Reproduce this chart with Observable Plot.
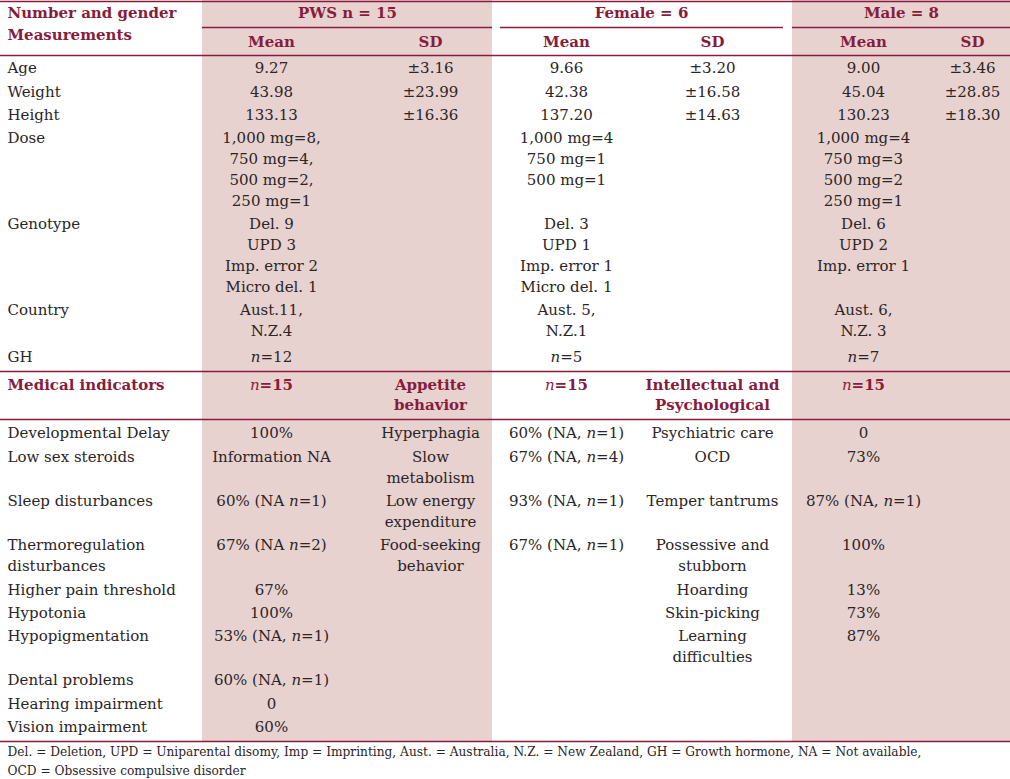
<!DOCTYPE html>
<html><head><meta charset="utf-8">
<script src="https://cdn.jsdelivr.net/npm/d3@7"></script>
<script src="https://cdn.jsdelivr.net/npm/@observablehq/plot@0.6"></script>
<style>body{margin:0;background:#fff}</style>
</head><body><div id="chart"></div>
<script>
// ---------- DATA ----------
const cornerHead = ["Number and gender", "Measurements"];
const groupHeads = ["PWS n = 15", "Female = 6", "Male = 8"];
const statHeads = ["Mean", "SD"];

const measureLabels = ["Age", "Weight", "Height"];
const pwsMean = [9.27, 43.98, 133.13];
const pwsSD = [3.16, 23.99, 16.36];
const femaleMean = [9.66, 42.38, 137.20];
const femaleSD = [3.20, 16.58, 14.63];
const maleMean = [9.00, 45.04, 130.23];
const maleSD = [3.46, 28.85, 18.30];

const descLabels = ["Dose", "Genotype", "Country", "GH"];
const pwsDesc = [["1,000 mg=8,", "750 mg=4,", "500 mg=2,", "250 mg=1"], ["Del. 9", "UPD 3", "Imp. error 2", "Micro del. 1"], ["Aust.11,", "N.Z.4"], ["n=12"]];
const femaleDesc = [["1,000 mg=4", "750 mg=1", "500 mg=1"], ["Del. 3", "UPD 1", "Imp. error 1", "Micro del. 1"], ["Aust. 5,", "N.Z.1"], ["n=5"]];
const maleDesc = [["1,000 mg=4", "750 mg=3", "500 mg=2", "250 mg=1"], ["Del. 6", "UPD 2", "Imp. error 1"], ["Aust. 6,", "N.Z. 3"], ["n=7"]];

const sectionHeads = [["Medical indicators"], ["n=15"], ["Appetite", "behavior"], ["n=15"], ["Intellectual and", "Psychological"], ["n=15"]];

const medicalLabels = [["Developmental Delay"], ["Low sex steroids"], ["Sleep disturbances"], ["Thermoregulation", "disturbances"], ["Higher pain threshold"], ["Hypotonia"], ["Hypopigmentation"], ["Dental problems"], ["Hearing impairment"], ["Vision impairment"]];
const medicalValues = ["100%", "Information NA", "60% (NA n=1)", "67% (NA n=2)", "67%", "100%", "53% (NA, n=1)", "60% (NA, n=1)", "0", "60%"];
const appetiteLabels = [["Hyperphagia"], ["Slow", "metabolism"], ["Low energy", "expenditure"], ["Food-seeking", "behavior"]];
const appetiteValues = ["60% (NA, n=1)", "67% (NA, n=4)", "93% (NA, n=1)", "67% (NA, n=1)"];
const psychLabels = [["Psychiatric care"], ["OCD"], ["Temper tantrums"], ["Possessive and", "stubborn"], ["Hoarding"], ["Skin-picking"], ["Learning", "difficulties"]];
const psychValues = ["0", "73%", "87% (NA, n=1)", "100%", "13%", "73%", "87%"];

const footnote = [
  "Del. = Deletion, UPD = Uniparental disomy, Imp = Imprinting, Aust. = Australia, N.Z. = New Zealand, GH = Growth hormone, NA = Not available,",
  "OCD = Obsessive compulsive disorder"
];

// ---------- LAYOUT ----------
const W = 1010, H = 779;
const colX = [7, 271, 430, 566, 712, 863, 972];
const groupX = [347, 641, 901];
const maroon = "#871c3d", ink = "#2b2527", shade = "#e8d2cf";
const FS = 15;
const lineH = 21, gap = 2.3;

const fmt = v => v.toFixed(2);
const pm = v => "±" + v.toFixed(2);

// body lines
const body = [];
function layoutRows(rows, startY, extra = []) {
  let y = startY;
  rows.forEach((cells, r) => {
    y += extra[r] || 0;
    let n = 1;
    cells.forEach(([c, lines]) => {
      if (!lines) return;
      n = Math.max(n, lines.length);
      lines.forEach((t, j) => body.push({x: colX[c], y: y + j * lineH, text: t, left: c === 0}));
    });
    y += n * lineH + gap;
  });
}
const topRows = [];
measureLabels.forEach((m, i) => topRows.push([
  [0, [m]], [1, [fmt(pwsMean[i])]], [2, [pm(pwsSD[i])]],
  [3, [fmt(femaleMean[i])]], [4, [pm(femaleSD[i])]],
  [5, [fmt(maleMean[i])]], [6, [pm(maleSD[i])]]
]));
descLabels.forEach((d, i) => topRows.push([[0, [d]], [1, pwsDesc[i]], [3, femaleDesc[i]], [5, maleDesc[i]]]));
layoutRows(topRows, 68, [0, 0, 0, 0, -1, 0, 3]);

const medRows = medicalLabels.map((m, i) => [
  [0, m], [1, [medicalValues[i]]],
  [2, appetiteLabels[i]], [3, appetiteValues[i] ? [appetiteValues[i]] : null],
  [4, psychLabels[i]], [5, psychValues[i] ? [psychValues[i]] : null]
]);
layoutRows(medRows, 433);

// header lines
const heads = [];
cornerHead.forEach((t, j) => heads.push({x: colX[0], y: 13 + j * 22, text: t, left: true}));
groupHeads.forEach((t, i) => heads.push({x: groupX[i], y: 13, text: t, left: false}));
[1, 3, 5].forEach(c => statHeads.forEach((t, k) => heads.push({x: colX[c + k], y: 42, text: t, left: false})));
sectionHeads.forEach((lines, c) => lines.forEach((t, j) => heads.push({x: colX[c], y: 385 + j * 20, text: t, left: c === 0})));

const shadeBands = [{x1: 202, x2: 492}, {x1: 792, x2: W}];
const rules = [
  {y: 1, x1: 0, x2: W}, {y: 27, x1: 202, x2: 492}, {y: 27, x1: 500, x2: 783}, {y: 27, x1: 792, x2: W},
  {y: 55, x1: 0, x2: W}, {y: 371, x1: 0, x2: W}, {y: 419, x1: 0, x2: W}, {y: 741, x1: 0, x2: W}
];
const notes = footnote.map((t, i) => ({x: 7, y: 752 + i * 18.5, text: t}));

const plot = Plot.plot({
  width: W, height: H, margin: 0,
  x: {domain: [0, W], range: [0, W], axis: null},
  y: {domain: [0, H], range: [0, H], axis: null},
  style: {fontFamily: "DejaVu Serif", background: "#fff"},
  marks: [
    Plot.rect(shadeBands, {x1: "x1", x2: "x2", y1: () => 0, y2: () => 741, fill: shade}),
    Plot.ruleY(rules, {y: "y", x1: "x1", x2: "x2", stroke: maroon, strokeWidth: 1.3}),
    Plot.text(body.filter(d => d.left), {x: "x", y: "y", text: "text", textAnchor: "start", fontSize: FS, fill: ink}),
    Plot.text(body.filter(d => !d.left), {x: "x", y: "y", text: "text", textAnchor: "middle", fontSize: FS, fill: ink}),
    Plot.text(heads.filter(d => d.left), {x: "x", y: "y", text: "text", textAnchor: "start", fontSize: FS, fontWeight: "bold", fill: maroon}),
    Plot.text(heads.filter(d => !d.left), {x: "x", y: "y", text: "text", textAnchor: "middle", fontSize: FS, fontWeight: "bold", fill: maroon}),
    Plot.text(notes, {x: "x", y: "y", text: "text", textAnchor: "start", fontSize: 12.2, fill: ink})
  ]
});

// italic "n" in n= expressions
plot.querySelectorAll("text").forEach(t => {
  if (t.children.length) return;
  const s = t.textContent;
  const parts = s.split(/(?<=^|[ (,])n(?==)/);
  if (parts.length < 2) return;
  t.textContent = "";
  parts.forEach((p, i) => {
    if (i > 0) {
      const ts = document.createElementNS("http://www.w3.org/2000/svg", "tspan");
      ts.setAttribute("font-style", "italic");
      ts.setAttribute("font-weight", "normal");
      ts.textContent = "n";
      t.appendChild(ts);
    }
    if (p) t.appendChild(document.createTextNode(p));
  });
});

document.getElementById("chart").appendChild(plot);
</script>
</body></html>
